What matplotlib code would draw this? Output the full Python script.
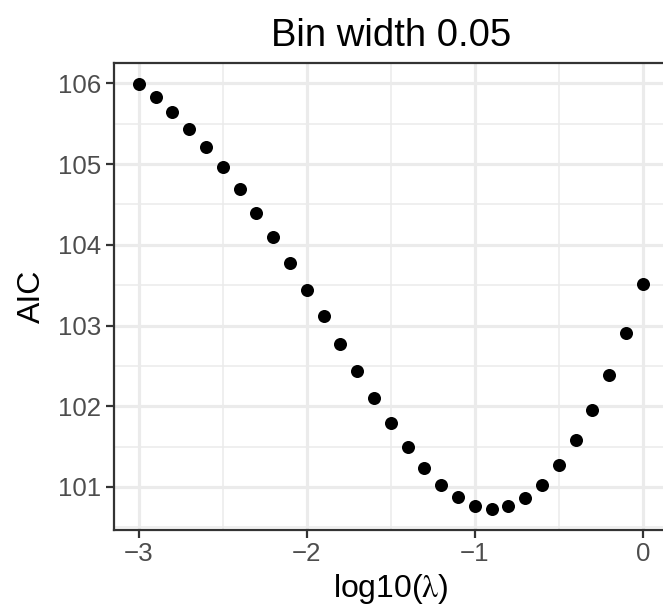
import matplotlib
matplotlib.use("Agg")
import matplotlib.pyplot as plt
from matplotlib.ticker import MultipleLocator

log_lambda = [-3.0, -2.9, -2.8, -2.7, -2.6, -2.5, -2.4, -2.3, -2.2, -2.1,
              -2.0, -1.9, -1.8, -1.7, -1.6, -1.5, -1.4, -1.3, -1.2, -1.1,
              -1.0, -0.9, -0.8, -0.7, -0.6, -0.5, -0.4, -0.3, -0.2, -0.1, 0.0]
aic = [105.99, 105.83, 105.64, 105.43, 105.21, 104.96, 104.69, 104.40, 104.10, 103.78,
       103.44, 103.12, 102.77, 102.44, 102.10, 101.79, 101.50, 101.24, 101.03, 100.87,
       100.77, 100.73, 100.76, 100.86, 101.03, 101.27, 101.58, 101.95, 102.39, 102.91,
       103.52]
title = "Bin width 0.05"
x_label = r"log10($\mathrm{\lambda}$)"
y_label = "AIC"

plt.rcParams['font.family'] = ['Liberation Sans', 'DejaVu Sans']
plt.rcParams['mathtext.fontset'] = 'stix'

fig = plt.figure(figsize=(6.63, 6.16), dpi=100)
W, H = 663, 616
left, right, bottom, top = 113.7, 668, 530, 63
ax = fig.add_axes([left / W, (H - bottom) / H, (right - left) / W, (bottom - top) / H])

ax.scatter(log_lambda, aic, s=88, color='black', linewidths=0, zorder=3)

xr = max(log_lambda) - min(log_lambda)
yr = max(aic) - min(aic)
ax.set_xlim(min(log_lambda) - 0.05 * xr, max(log_lambda) + 0.05 * xr)
ax.set_ylim(min(aic) - 0.05 * yr, max(aic) + 0.05 * yr)

ax.xaxis.set_major_locator(MultipleLocator(1))
ax.xaxis.set_minor_locator(MultipleLocator(0.5))
ax.yaxis.set_major_locator(MultipleLocator(1))
ax.yaxis.set_minor_locator(MultipleLocator(0.5))

ax.grid(which='major', color='#EBEBEB', linewidth=2.3, zorder=0)
ax.grid(which='minor', color='#EBEBEB', linewidth=1.15, zorder=0)
ax.set_axisbelow(True)

for sp in ax.spines.values():
    sp.set_color('#333333')
    sp.set_linewidth(1.6)

ax.tick_params(which='major', length=5.8, width=1.6, color='#333333',
               labelsize=18.6, labelcolor='#4D4D4D', pad=3)
ax.tick_params(which='minor', length=0)

ax.set_xlabel(x_label, fontsize=23, color='black', labelpad=4)
ax.set_ylabel(y_label, fontsize=23, color='black', labelpad=8)
ax.set_title(title, fontsize=27.5, color='black', pad=12)

fig.savefig("out.png", dpi=100)
